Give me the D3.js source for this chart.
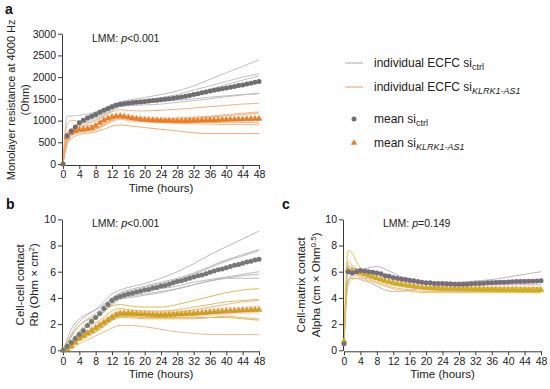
<!DOCTYPE html>
<html><head><meta charset="utf-8">
<script src="https://cdn.jsdelivr.net/npm/d3@7"></script>
<style>body{margin:0;background:#fff}svg{display:block;font-family:"Liberation Sans",Arial,sans-serif}</style>
</head><body><svg id="c" width="550" height="389"></svg>
<script>
// ---------- DATA ----------
const hours = d3.range(0, 49);               // mean time points (hourly)
const T = [0,1,2,3,4,6,8,10,12,14,16,20,24,28,32,36,40,44,48]; // individual curve time points
const xTicks = [0,4,8,12,16,20,24,28,32,36,40,44,48];
const yTicksA = [0,500,1000,1500,2000,2500,3000];
const yTicksBC = [0,2,4,6,8,10];

// Panel a
const meanA_ctrl = [0,650,760,850,950,1010,1060,1100,1140,1190,
  1240,1280,1320,1350,1375,1390,1400,1410,1420,1430,
  1440,1450,1460,1470,1480,1490,1500,1515,1530,1545,
  1560,1580,1600,1620,1640,1660,1680,1700,1715,1730,
  1750,1765,1785,1805,1820,1840,1860,1880,1900];
const meanA_kl = [0,620,720,760,790,800,810,830,880,950,
  1010,1050,1080,1100,1105,1095,1075,1055,1040,1030,
  1020,1015,1010,1005,1000,995,995,990,990,990,
  990,995,1000,1000,1005,1005,1010,1010,1015,1020,
  1020,1025,1025,1030,1030,1035,1035,1040,1040];
const indA_ctrl = [
  [0,700,800,880,960,1100,1200,1280,1370,1430,1470,1530,1600,1680,1800,1950,2100,2250,2400],
  [0,1100,1110,1110,1120,1150,1200,1260,1340,1420,1450,1480,1530,1600,1700,1800,1900,2000,2080],
  [0,650,760,850,940,1040,1120,1200,1300,1380,1410,1440,1490,1550,1620,1720,1830,1930,2030],
  [0,600,700,800,880,980,1060,1150,1250,1330,1370,1400,1440,1470,1500,1540,1570,1600,1630],
  [0,550,650,740,830,930,1020,1120,1230,1320,1340,1360,1380,1420,1460,1500,1550,1590,1620],
  [0,600,720,820,910,1010,1080,1170,1280,1370,1400,1430,1470,1520,1580,1660,1740,1820,1900]];
const indA_kl = [
  [0,900,1000,1000,980,950,1000,1100,1200,1250,1230,1220,1240,1260,1290,1320,1350,1380,1400],
  [0,700,800,850,870,880,900,1000,1080,1120,1100,1060,1050,1060,1080,1100,1140,1170,1200],
  [0,600,700,750,780,800,830,930,1030,1080,1060,1030,1020,1030,1050,1080,1110,1140,1170],
  [0,500,650,700,730,760,800,900,1000,1050,1030,1000,980,970,960,960,950,950,950],
  [0,550,680,720,740,760,790,880,980,1030,1000,970,950,940,930,920,910,905,900],
  [0,450,580,640,680,710,740,800,870,900,880,840,800,760,720,700,700,700,700]];

// Panel b
const meanB_ctrl = [0,0.3,0.6,0.9,1.2,1.5,1.9,2.2,2.5,2.8,
  3.2,3.5,3.8,4.0,4.1,4.2,4.3,4.35,4.45,4.5,
  4.6,4.65,4.75,4.8,4.9,4.95,5.05,5.15,5.25,5.3,
  5.4,5.5,5.6,5.7,5.75,5.85,5.95,6.05,6.15,6.2,
  6.3,6.4,6.5,6.55,6.65,6.75,6.8,6.9,6.95];
const meanB_kl = [0,0.1,0.3,0.6,0.9,1.1,1.3,1.5,1.7,1.9,
  2.1,2.3,2.5,2.7,2.8,2.8,2.8,2.8,2.78,2.76,
  2.75,2.73,2.72,2.7,2.7,2.7,2.72,2.73,2.75,2.76,
  2.78,2.8,2.8,2.82,2.85,2.87,2.9,2.92,2.95,2.97,
  3.0,3.0,3.02,3.04,3.05,3.06,3.08,3.09,3.1];
const indB_ctrl = [
  [0,0.6,1.2,1.8,2.2,2.7,3.1,3.7,4.3,4.6,4.8,5.1,5.5,6.0,6.6,7.3,7.9,8.5,9.1],
  [0,0.5,1.0,1.5,1.9,2.4,2.8,3.4,4.0,4.4,4.6,4.9,5.2,5.5,5.9,6.4,6.9,7.3,7.7],
  [0,0.3,0.7,1.1,1.5,2.1,2.6,3.2,3.9,4.3,4.5,4.8,5.1,5.4,5.8,6.3,6.8,7.2,7.6],
  [0,0.8,1.6,2.1,2.4,2.8,3.1,3.5,4.0,4.2,4.3,4.5,4.7,4.9,5.2,5.4,5.6,5.8,6.0],
  [0,0.2,0.5,0.9,1.3,1.9,2.5,3.0,3.6,4.0,4.1,4.3,4.5,4.7,5.0,5.3,5.5,5.7,5.8],
  [0,0.3,0.6,1.0,1.4,1.9,2.4,2.9,3.5,3.9,4.0,4.2,4.4,4.7,5.0,5.3,5.5,5.5,5.5]];
const indB_kl = [
  [0,0.5,1.1,1.5,1.9,2.3,2.6,3.0,3.4,3.5,3.4,3.3,3.3,3.5,3.8,4.1,4.4,4.6,4.7],
  [0,0.2,0.5,0.9,1.3,1.8,2.1,2.5,3.0,3.2,3.1,3.0,3.0,3.1,3.3,3.5,3.7,3.8,3.9],
  [0,0.1,0.3,0.6,1.0,1.4,1.8,2.2,2.7,2.9,2.9,2.8,2.8,2.9,3.1,3.3,3.5,3.7,3.8],
  [0,0.1,0.3,0.6,0.9,1.2,1.5,1.9,2.4,2.6,2.6,2.5,2.5,2.5,2.5,2.5,2.5,2.4,2.3],
  [0,0.0,0.2,0.5,0.8,1.1,1.4,1.8,2.3,2.5,2.5,2.4,2.4,2.4,2.4,2.5,2.6,2.5,2.4],
  [0,0.0,0.1,0.3,0.5,0.8,1.1,1.4,1.7,1.9,1.9,1.8,1.6,1.4,1.3,1.2,1.2,1.2,1.2]];
const semB_kl = [0,0.1,0.15,0.2,0.25,0.3,0.3,0.3,0.3,0.3,0.3,0.3,0.3,0.3,0.3,0.3,0.3,0.3,0.3];

// Panel c
const meanC_ctrl = [0.5,6.0,5.9,6.0,6.1,6.05,6.0,5.95,5.9,5.85,
  5.7,5.65,5.55,5.5,5.45,5.4,5.35,5.3,5.25,5.2,
  5.15,5.15,5.1,5.1,5.1,5.08,5.06,5.05,5.05,5.05,
  5.05,5.08,5.1,5.1,5.12,5.15,5.15,5.18,5.2,5.2,
  5.22,5.23,5.25,5.25,5.26,5.27,5.28,5.29,5.3];
const meanC_kl = [0.7,6.1,6.05,6.0,5.9,5.8,5.7,5.6,5.5,5.4,
  5.3,5.25,5.15,5.1,5.05,5.0,4.95,4.9,4.85,4.8,
  4.78,4.75,4.73,4.72,4.7,4.7,4.7,4.69,4.68,4.68,
  4.67,4.67,4.66,4.66,4.65,4.65,4.64,4.64,4.63,4.63,
  4.62,4.62,4.62,4.61,4.61,4.6,4.6,4.6,4.6];
const indC_ctrl = [
  [0.5,5.2,5.8,6.0,6.1,6.3,6.4,6.2,5.9,5.6,5.4,5.2,5.2,5.2,5.3,5.4,5.6,5.8,6.0],
  [0.5,6.5,6.3,6.2,6.1,6.0,5.9,5.7,5.5,5.3,5.2,5.1,5.1,5.1,5.2,5.2,5.3,5.3,5.3],
  [0.5,5.4,5.5,5.5,5.4,5.2,4.9,4.6,4.5,4.5,4.6,4.8,4.9,5.0,5.0,5.0,5.0,5.0,5.0],
  [0.5,6.2,6.2,6.2,6.2,6.1,6.0,5.8,5.6,5.4,5.3,5.1,5.1,5.1,5.2,5.3,5.3,5.4,5.4]];
const indC_kl = [
  [0.7,7.6,7.4,6.8,6.3,5.9,5.6,5.3,5.1,4.9,4.8,4.8,4.8,4.8,4.8,4.8,4.8,4.8,4.8],
  [0.7,6.8,6.5,6.2,6.0,5.7,5.4,5.2,5.0,4.9,4.8,4.7,4.7,4.7,4.7,4.7,4.7,4.7,4.7],
  [0.7,5.3,5.6,5.7,5.6,5.4,5.2,5.0,4.8,4.7,4.6,4.5,4.5,4.5,4.5,4.5,4.5,4.5,4.5],
  [0.7,5.0,5.4,5.5,5.5,5.3,5.1,4.9,4.7,4.6,4.5,4.4,4.4,4.4,4.4,4.4,4.4,4.4,4.4]];
const semC_kl = [0,0.3,0.3,0.3,0.3,0.25,0.25,0.25,0.25,0.25,0.25,0.25,0.25,0.25,0.25,0.25,0.25,0.25,0.25];

// ---------- DRAW ----------
const svg = d3.select("#c");
const AX = "#3a3a3a";

function panel(o) {
  const x = d3.scaleLinear().domain([0,48]).range([o.x0, o.x1]);
  const y = d3.scaleLinear().domain(o.ydom).range([o.y0, o.y1]);
  const g = svg.append("g");
  const line = d3.line().x((d,i)=>x(T[i])).y(d=>y(d)).curve(d3.curveMonotoneX);

  if (o.sem) {
    const area = d3.area().x((d,i)=>x(T[i])).y0((d,i)=>y(o.meanK[T[i]]-d)).y1((d,i)=>y(o.meanK[T[i]]+d)).curve(d3.curveMonotoneX);
    g.append("path").attr("d", area(o.sem)).attr("fill", "#fbd3da").attr("opacity", 0.8);
  }
  o.indC.forEach(s => g.append("path").attr("d", line(s)).attr("fill","none")
    .attr("stroke", o.colC).attr("stroke-width", 0.9));
  o.indK.forEach((s,i) => g.append("path").attr("d", line(s)).attr("fill","none")
    .attr("stroke", o.colK[i % o.colK.length]).attr("stroke-width", 0.9));

  // axes
  const xa = g.append("g").attr("transform", `translate(0,${o.y0+1})`)
    .call(d3.axisBottom(x).tickValues(xTicks).tickSize(4).tickSizeOuter(0).tickPadding(2).tickFormat(d3.format("d")));
  const ya = g.append("g").attr("transform", `translate(${o.x0-1},0)`)
    .call(d3.axisLeft(y).tickValues(o.yticks).tickSize(4).tickSizeOuter(0).tickPadding(2).tickFormat(d3.format("d")));
  [xa, ya].forEach(a => {
    a.selectAll("path,line").attr("stroke", AX);
    a.selectAll("text").attr("fill", "#222").style("font-size", "10.5px").style("font-family", '"Liberation Sans",Arial,sans-serif');
  });

  // means
  const tri = d3.symbol().type(d3.symbolTriangle).size(16);
  g.append("g").selectAll("path").data(o.meanK).join("path")
    .attr("d", tri).attr("transform", (d,i)=>`translate(${x(hours[i])},${y(d)})`)
    .attr("fill", o.triFill).attr("stroke", o.triStroke).attr("stroke-width", 0.4);
  g.append("g").selectAll("circle").data(o.meanC).join("circle")
    .attr("cx", (d,i)=>x(hours[i])).attr("cy", d=>y(d)).attr("r", 2.5)
    .attr("fill", o.circFill);

  // x title
  g.append("text").attr("x", (o.x0+o.x1)/2).attr("y", o.y0+28).attr("text-anchor","middle")
    .style("font-size","11.5px").attr("fill","#222").text("Time (hours)");
  // LMM
  const t = g.append("text").attr("x", o.lmmX).attr("y", o.y1+8).style("font-size","10.5px").attr("fill","#222");
  t.append("tspan").text("LMM: ");
  t.append("tspan").attr("font-style","italic").text("p");
  t.append("tspan").text(o.pTxt);
  // y titles
  const cy = (o.y0+o.y1)/2;
  o.ytitle(g, cy);
}

function rotText(g, x, y, size) {
  return g.append("text").attr("transform", `translate(${x},${y}) rotate(-90)`)
    .attr("text-anchor","middle").style("font-size", size).attr("fill","#222");
}

panel({x0:63, x1:259, y0:164, y1:33.7, ydom:[0,3000], yticks:yTicksA,
  meanC: meanA_ctrl, meanK: meanA_kl, indC: indA_ctrl, indK: indA_kl,
  colC:"#b9b9b9", colK:["#f6a774","#f4b083","#f7a060"], triFill:"#f07b1f", triStroke:"#f07b1f", circFill:"#6e6e6e",
  lmmX:92, pTxt:"<0.001",
  ytitle:(g,cy)=>{ rotText(g,15,cy+1,"11px").text("Monolayer resistance at 4000 Hz");
                   rotText(g,29,cy+1,"11px").text("(Ohm)"); }});

panel({x0:63, x1:259, y0:350.3, y1:219.3, ydom:[0,10], yticks:yTicksBC,
  meanC: meanB_ctrl, meanK: meanB_kl, indC: indB_ctrl, indK: indB_kl, sem: semB_kl,
  colC:"#b3b3b3", colK:["#d9b443","#e0b94e","#eeb07d"], triFill:"#c9a516", triStroke:"#d48a1a", circFill:"#777",
  lmmX:92, pTxt:"<0.001",
  ytitle:(g,cy)=>{ rotText(g,24,cy,"11.5px").text("Cell-cell contact");
                   const t=rotText(g,38,cy,"11.5px"); t.append("tspan").text("Rb (Ohm × cm");
                   t.append("tspan").attr("dy",-4).style("font-size","8px").text("2");
                   t.append("tspan").attr("dy",4).text(")"); }});

panel({x0:344, x1:541, y0:350.3, y1:219.3, ydom:[0,10], yticks:yTicksBC,
  meanC: meanC_ctrl, meanK: meanC_kl, indC: indC_ctrl, indK: indC_kl, sem: semC_kl,
  colC:"#b5adb5", colK:["#d8c94a","#dcbc45","#eeb07d","#e2c04e"], triFill:"#c9b21a", triStroke:"#d69a1a", circFill:"#776d7c",
  lmmX:383, pTxt:"=0.149",
  ytitle:(g,cy)=>{ rotText(g,305,cy,"11.5px").text("Cell-matrix contact");
                   const t=rotText(g,320,cy,"11.5px"); t.append("tspan").text("Alpha (cm × Ohm");
                   t.append("tspan").attr("dy",-4).style("font-size","8px").text("0.5");
                   t.append("tspan").attr("dy",4).text(")"); }});

// panel letters
[["a",5,14],["b",6,209],["c",282,209]].forEach(([l,x,y]) =>
  svg.append("text").attr("x",x).attr("y",y).style("font-size","14px").style("font-weight","bold").attr("fill","#111").text(l));

// legend
const leg = svg.append("g");
const legItems = [
  {type:"line", color:"#b9b9b9", txt:"individual ECFC si", sub:"ctrl", ital:false, y:63},
  {type:"line", color:"#f6a774", txt:"individual ECFC si", sub:"KLRK1-AS1", ital:true, y:87},
  {type:"circle", color:"#6e6e6e", txt:"mean si", sub:"ctrl", ital:false, y:119},
  {type:"tri", color:"#f07b1f", txt:"mean si", sub:"KLRK1-AS1", ital:true, y:143}];
legItems.forEach(d => {
  if (d.type==="line") leg.append("line").attr("x1",345).attr("x2",363).attr("y1",d.y).attr("y2",d.y).attr("stroke",d.color).attr("stroke-width",1.2);
  else if (d.type==="circle") leg.append("circle").attr("cx",354).attr("cy",d.y).attr("r",2.5).attr("fill",d.color);
  else leg.append("path").attr("d", d3.symbol().type(d3.symbolTriangle).size(18)()).attr("transform",`translate(354,${d.y})`).attr("fill",d.color);
  const t = leg.append("text").attr("x",374).attr("y",d.y+4).style("font-size","12px").attr("fill","#222");
  t.append("tspan").text(d.txt);
  t.append("tspan").attr("dy",3).style("font-size","9px").attr("font-style", d.ital?"italic":"normal").text(d.sub);
});
</script></body></html>
